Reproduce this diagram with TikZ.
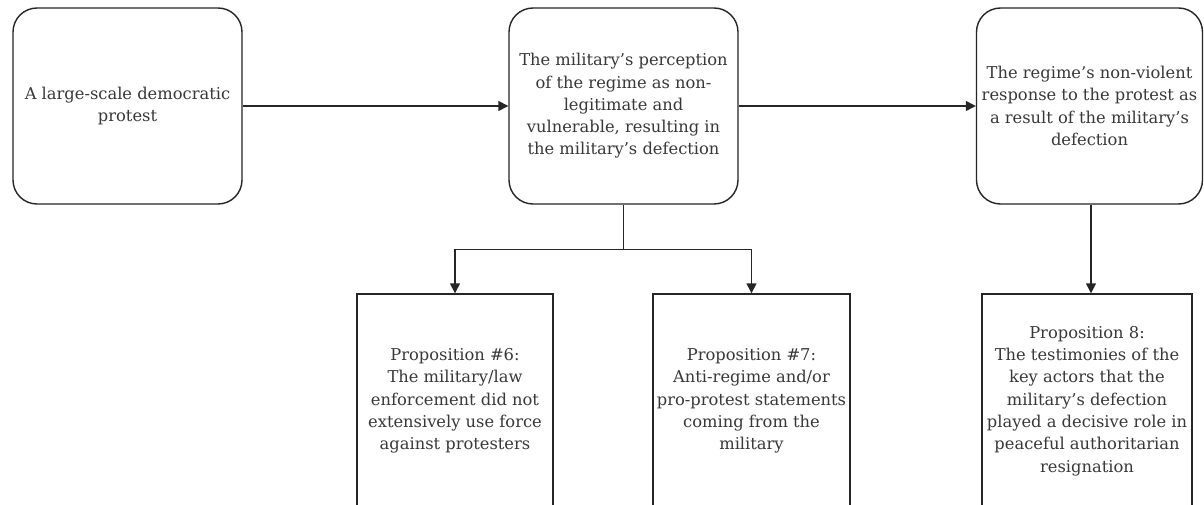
\documentclass[tikz,border=0pt]{standalone}
\usepackage{fontspec}
\setmainfont{DejaVu Serif}
\usetikzlibrary{arrows.meta,calc}
\begin{document}
\begin{tikzpicture}[x=1pt,y=-1pt,
  every node/.style={font=\fontsize{16.3}{22.3}\selectfont, text=black!78, align=center, inner sep=0pt},
  roundbox/.style={draw=black!85, line width=1.4pt, rounded corners=24pt},
  sqbox/.style={draw=black!85, line width=1.4pt},
  conn/.style={draw=black!85, line width=1.4pt, -{Triangle[length=10pt,width=10pt]}},
  plain/.style={draw=black!85, line width=1.4pt}
]
\useasboundingbox (0,0) rectangle (1204,505);
\fill[white] (0,0) rectangle (1204,505);
\node[roundbox, minimum width=229pt, minimum height=196pt] (b1) at (127.5,106) {A large-scale democratic\\protest};
\node[roundbox, minimum width=229pt, minimum height=196pt] (b2) at (623.5,106) {The military's perception\\of the regime as non-\\legitimate and\\vulnerable, resulting in\\the military's defection};
\node[roundbox, minimum width=226pt, minimum height=196pt] (b3) at (1089.5,106) {The regime's non-violent\\response to the protest as\\a result of the military's\\defection};
\node[sqbox, minimum width=196pt, minimum height=214pt] (b4) at (455,401) {Proposition \#6:\\The military/law\\enforcement did not\\extensively use force\\against protesters};
\node[sqbox, minimum width=197pt, minimum height=214pt] (b5) at (751.5,401) {Proposition \#7:\\Anti-regime and/or\\pro-protest statements\\coming from the\\military};
\node[sqbox, minimum width=210pt, minimum height=214pt] (b6) at (1087,401) {Proposition 8:\\The testimonies of the\\key actors that the\\military's defection\\played a decisive role in\\peaceful authoritarian\\resignation};
\coordinate (split) at ($(b2.south)+(0,45)$);
\coordinate (a3) at ($(b3.south)+(1.5,0)$);
\draw[conn] (b1.east) -- (b2.west);
\draw[conn] (b2.east) -- (b3.west);
\draw[plain] (b2.south) -- (split);
\draw[conn] (split) -| (b4.north);
\draw[conn] (split) -| (b5.north);
\draw[conn] (a3) -- (a3 |- b6.north);
\end{tikzpicture}
\end{document}
